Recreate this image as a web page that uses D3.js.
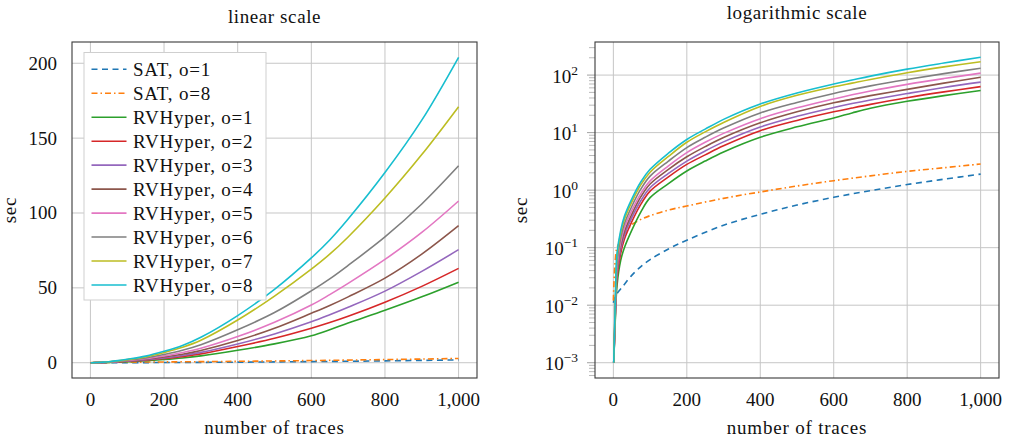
<!DOCTYPE html>
<html>
<head>
<meta charset="utf-8">
<script src="https://cdn.jsdelivr.net/npm/d3@7"></script>
<style>
  html, body { margin: 0; padding: 0; background: #fff; }
  svg { display: block; }
  text { font-family: "Liberation Serif", "DejaVu Serif", serif; fill: #111; }
</style>
</head>
<body>
<svg id="chart" width="1010" height="443"></svg>
<script>
// ---------- data ----------
const satX   = [0, 5, 10, 25, 50, 75, 100, 150, 200, 300, 400, 500, 600, 700, 800, 900, 1000];
const sat1   = [0.011, 0.014, 0.016, 0.021, 0.033, 0.047, 0.062, 0.095, 0.135, 0.245, 0.38, 0.55, 0.75, 0.98, 1.25, 1.55, 1.9];
const sat8   = [0.012, 0.06, 0.1, 0.15, 0.25, 0.31, 0.36, 0.45, 0.53, 0.72, 0.93, 1.18, 1.46, 1.77, 2.12, 2.45, 2.85];

const rvX = [1, 5, 10, 20, 30, 50, 75, 100, 150, 200, 250, 300, 400, 500, 600, 650, 700, 800, 900, 1000];
const rv1 = [0.001, 0.005, 0.022, 0.06, 0.1, 0.2, 0.42, 0.74, 1.3, 2.15, 3.2, 4.6, 8.3, 12.6, 18.0, 22.0, 26.5, 35, 44, 53.8];
const rv2 = [0.001, 0.0055, 0.03, 0.08, 0.14, 0.28, 0.57, 0.96, 1.7, 2.8, 4.1, 5.9, 10.8, 16.3, 23, 26.8, 31, 40.4, 51, 63];
const rv3 = [0.001, 0.006, 0.035, 0.095, 0.165, 0.33, 0.66, 1.1, 1.95, 3.2, 4.8, 6.9, 12.5, 19.2, 27.3, 32, 37, 47.8, 61, 75.5];
const rv4 = [0.001, 0.0065, 0.04, 0.11, 0.19, 0.38, 0.77, 1.28, 2.3, 3.8, 5.7, 8.2, 14.8, 23, 33, 38.2, 44, 56.5, 72.5, 91.5];
const rv5 = [0.001, 0.007, 0.045, 0.125, 0.22, 0.44, 0.88, 1.45, 2.65, 4.5, 6.8, 9.7, 17.5, 27, 38.5, 45.5, 53, 69, 87, 108];
const rv6 = [0.001, 0.008, 0.055, 0.15, 0.26, 0.52, 1.05, 1.75, 3.2, 5.5, 8.3, 12, 22, 33.5, 48, 56, 65, 84, 106, 131.5];
const rv7 = [0.001, 0.009, 0.07, 0.18, 0.31, 0.62, 1.25, 2.05, 3.85, 6.8, 10.3, 15, 28.5, 44.5, 62.5, 72.5, 84, 110, 139, 171];
const rv8 = [0.001, 0.01, 0.08, 0.2, 0.35, 0.7, 1.4, 2.3, 4.4, 7.6, 11.5, 17, 31.5, 49, 70, 82, 96, 127, 162, 204];

const seriesNames = ["SAT, o=1", "SAT, o=8", "RVHyper, o=1", "RVHyper, o=2", "RVHyper, o=3",
                     "RVHyper, o=4", "RVHyper, o=5", "RVHyper, o=6", "RVHyper, o=7", "RVHyper, o=8"];
const seriesColors = ["#1f77b4", "#ff7f0e", "#2ca02c", "#d62728", "#9467bd",
                      "#8c564b", "#e377c2", "#7f7f7f", "#bcbd22", "#17becf"];
const seriesDash = ["6,4.5", "6,3,1.5,3", null, null, null, null, null, null, null, null];

const xTicks = [0, 200, 400, 600, 800, 1000];
const yTicksLin = [0, 50, 100, 150, 200];
const yTicksLogExp = [-3, -2, -1, 0, 1, 2];

const titles = ["linear scale", "logarithmic scale"];
const xLabel = "number of traces";
const yLabel = "sec";

// ---------- build series ----------
const series = [
  {x: satX, y: sat1}, {x: satX, y: sat8},
  {x: rvX, y: rv1}, {x: rvX, y: rv2}, {x: rvX, y: rv3}, {x: rvX, y: rv4},
  {x: rvX, y: rv5}, {x: rvX, y: rv6}, {x: rvX, y: rv7}, {x: rvX, y: rv8}
].map((s, i) => ({
  name: seriesNames[i], color: seriesColors[i], dash: seriesDash[i],
  pts: s.x.map((xv, j) => [xv, s.y[j]])
}));

const svg = d3.select("#chart");
const fmt = d3.format(",");
const FS = "19px";

const gridColor = "#c6c6c6";
const frameColor = "#3a3a3a";

function panel(opts) {
  const {left, right, top, bottom, yScaleType, title, titleY, ylabX} = opts;
  const x = d3.scaleLinear().domain([-50, 1050]).range([left, right]);
  let y;
  if (yScaleType === "log") {
    const lo = Math.pow(10, -3.2655), hi = Math.pow(10, 2.5751);
    y = d3.scaleLog().domain([lo, hi]).range([bottom, top]);
  } else {
    y = d3.scaleLinear().domain([-10.2, 214.2]).range([bottom, top]);
  }
  const g = svg.append("g");
  const clipId = "clip-" + yScaleType;
  svg.append("clipPath").attr("id", clipId).append("rect")
    .attr("x", left).attr("y", top).attr("width", right - left).attr("height", bottom - top);

  // grid
  const grid = g.append("g");
  grid.selectAll("line.vx").data(xTicks).enter().append("line")
    .attr("x1", d => x(d)).attr("x2", d => x(d)).attr("y1", top).attr("y2", bottom)
    .attr("stroke", gridColor).attr("stroke-width", 1);
  const yTickVals = yScaleType === "log" ? yTicksLogExp.map(e => Math.pow(10, e)) : yTicksLin;
  grid.selectAll("line.hy").data(yTickVals).enter().append("line")
    .attr("x1", left).attr("x2", right).attr("y1", d => y(d)).attr("y2", d => y(d))
    .attr("stroke", gridColor).attr("stroke-width", 1);

  // minor ticks on log axis
  if (yScaleType === "log") {
    const minors = [];
    for (let e = -4; e <= 2; e++) for (let m = 1; m <= 9; m++) {
      const v = m * Math.pow(10, e);
      if (v >= y.domain()[0] && v <= y.domain()[1]) minors.push({v, major: m === 1});
    }
    g.append("g").selectAll("line").data(minors).enter().append("line")
      .attr("x1", d => left - (d.major ? 8 : 6)).attr("x2", left)
      .attr("y1", d => y(d.v)).attr("y2", d => y(d.v))
      .attr("stroke", d => d.major ? "#8a8a8a" : "#a8a8a8").attr("stroke-width", 0.8);
  }

  // lines
  const line = d3.line().x(d => x(d[0])).y(d => y(d[1])).curve(d3.curveCatmullRom.alpha(0.5));
  g.append("g").attr("clip-path", `url(#${clipId})`)
    .selectAll("path").data(series).enter().append("path")
    .attr("d", d => line(d.pts))
    .attr("fill", "none").attr("stroke", d => d.color).attr("stroke-width", 1.6)
    .attr("stroke-dasharray", d => d.dash).attr("stroke-linejoin", "round");

  // frame
  g.append("rect").attr("x", left).attr("y", top).attr("width", right - left).attr("height", bottom - top)
    .attr("fill", "none").attr("stroke", frameColor).attr("stroke-width", 1.1);

  // x tick labels
  g.append("g").selectAll("text").data(xTicks).enter().append("text")
    .attr("x", d => x(d)).attr("y", 406).attr("text-anchor", "middle")
    .style("font-size", FS).text(d => fmt(d));

  // y tick labels
  if (yScaleType === "log") {
    const t = g.append("g").selectAll("text").data(yTicksLogExp).enter().append("text")
      .attr("x", left - 17).attr("y", d => y(Math.pow(10, d)) + 7.5)
      .attr("text-anchor", "end").style("font-size", FS);
    t.append("tspan").text("10");
    t.append("tspan").attr("dy", -8).style("font-size", "13.5px").text(d => d < 0 ? "\u2212" + (-d) : String(d));
  } else {
    g.append("g").selectAll("text").data(yTicksLin).enter().append("text")
      .attr("x", left - 15).attr("y", d => y(d) + 6.5).attr("text-anchor", "end")
      .style("font-size", FS).text(d => fmt(d));
  }

  // titles / labels
  g.append("text").attr("x", (left + right) / 2).attr("y", titleY).attr("text-anchor", "middle")
    .style("font-size", FS).style("letter-spacing", "0.6px").text(title);
  g.append("text").attr("x", (left + right) / 2).attr("y", 434).attr("text-anchor", "middle")
    .style("font-size", FS).style("letter-spacing", "0.8px").text(xLabel);
  g.append("text").attr("transform", `translate(${ylabX},210) rotate(-90)`).attr("text-anchor", "middle")
    .style("font-size", FS).style("letter-spacing", "0.8px").text(yLabel);

  return {x, y};
}

panel({left: 72, right: 477, top: 42, bottom: 378, yScaleType: "linear", title: titles[0], titleY: 23, ylabX: 16});
panel({left: 595, right: 999, top: 42, bottom: 378, yScaleType: "log", title: titles[1], titleY: 19, ylabX: 527});

// legend
const lg = svg.append("g");
lg.append("rect").attr("x", 84).attr("y", 52.5).attr("width", 182).attr("height", 247.5)
  .attr("fill", "#fff").attr("stroke", "#cfcfcf").attr("stroke-width", 1);
const rowY = d3.scaleLinear().domain([0, seriesNames.length - 1]).range([69.3, 285]);
const rows = lg.selectAll("g.row").data(series).enter().append("g")
  .attr("transform", (d, i) => `translate(0,${rowY(i)})`);
rows.append("line").attr("x1", 91.5).attr("x2", 126.5).attr("y1", 0).attr("y2", 0)
  .attr("stroke", d => d.color).attr("stroke-width", 1.6).attr("stroke-dasharray", d => d.dash);
rows.append("text").attr("x", 133).attr("y", 6.5).style("font-size", FS).style("letter-spacing", "0.8px")
  .text(d => d.name);
</script>
</body>
</html>
